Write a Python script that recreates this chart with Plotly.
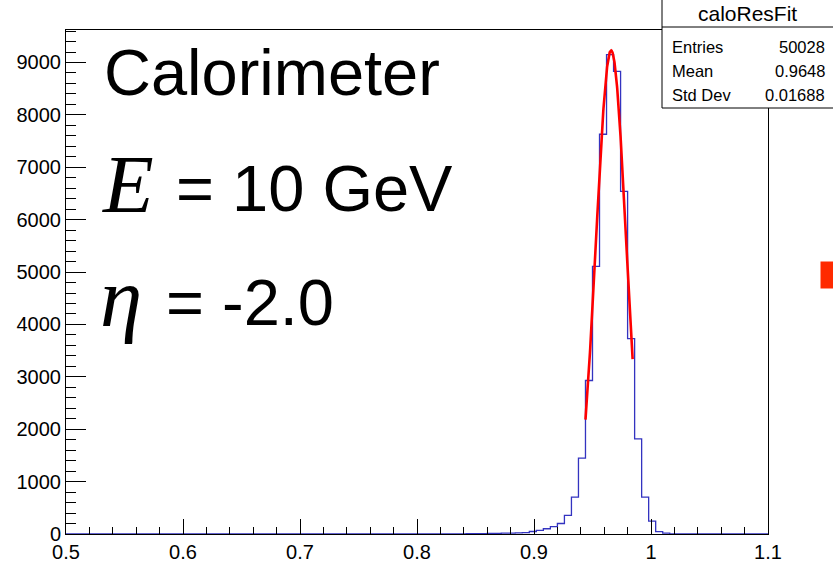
import numpy as np
import plotly.graph_objects as go

# ---------------- data ----------------
x_min, x_max, bin_width = 0.5, 1.1, 0.006
first_edge = 0.800          # lower edge of first listed bin
counts = [2, 1, 3, 2, 3, 4, 4, 5, 7, 8, 10, 12, 15, 18, 22, 28, 48,
          70, 100, 140, 200, 356, 705, 1450, 2930, 5110, 7630, 9150,
          8830, 6540, 3730, 1815, 705, 245, 45, 15, 4, 1]
y_max = 9620

fit_amp, fit_mean, fit_sigma = 9230, 0.9659, 0.0129
fit_lo, fit_hi = 0.944, 0.9843

stats_title = "caloResFit"
stats_labels = ["Entries", "Mean", "Std Dev"]
stats_values = ["50028", "0.9648", "0.01688"]

x_ticks = [0.5, 0.6, 0.7, 0.8, 0.9, 1.0, 1.1]
x_ticklabels = ["0.5", "0.6", "0.7", "0.8", "0.9", "1", "1.1"]
y_ticks = [0, 1000, 2000, 3000, 4000, 5000, 6000, 7000, 8000, 9000]

# ---------------- geometry ----------------
W, H = 833, 562
ML, MR, MT, MB = 66, 65, 30, 28
PW, PH = W - ML - MR, H - MT - MB


def px(xp):
    return (xp - ML) / PW


def py(yp):
    return (H - MB - yp) / PH


# histogram outline (step)
edges = first_edge + bin_width * np.arange(len(counts) + 1)
hx = np.concatenate([[x_min, first_edge], edges, [x_max]])
hy = np.concatenate([[0, 0], counts, [0, 0]])

fx = np.linspace(fit_lo, fit_hi, 200)
fy = fit_amp * np.exp(-0.5 * ((fx - fit_mean) / fit_sigma) ** 2)

fig = go.Figure()
fig.add_trace(go.Scatter(x=hx, y=hy, mode="lines", line_shape="hv",
                         line=dict(color="#3333c0", width=1.3),
                         hoverinfo="skip", showlegend=False))
fig.add_trace(go.Scatter(x=fx, y=fy, mode="lines",
                         line=dict(color="#ff0000", width=2.6),
                         hoverinfo="skip", showlegend=False))

tickfont = dict(family="Liberation Sans, Arial, sans-serif", size=20, color="black")

fig.update_xaxes(range=[x_min, x_max], tickvals=x_ticks, ticktext=x_ticklabels,
                 ticks="inside", ticklen=15, tickwidth=1, tickcolor="black",
                 minor=dict(tickvals=list(np.round(np.arange(0.52, 1.1, 0.02), 3)),
                            ticks="inside", ticklen=7, tickwidth=1, tickcolor="black"),
                 showline=True, linecolor="black", linewidth=1, mirror=True,
                 showgrid=False, zeroline=False, tickfont=tickfont, automargin=False)
fig.update_yaxes(range=[0, y_max], tickvals=y_ticks,
                 ticks="inside", ticklen=20, tickwidth=1, tickcolor="black",
                 minor=dict(tickvals=list(range(200, 9620, 200)),
                            ticks="inside", ticklen=10, tickwidth=1, tickcolor="black"),
                 showline=True, linecolor="black", linewidth=1, mirror=True,
                 showgrid=False, zeroline=False, tickfont=tickfont, automargin=False)

sans = "Liberation Sans, Arial, sans-serif"
serif = "Liberation Serif, Times New Roman, serif"
ann = []
ann.append(dict(text="Calorimeter", x=px(102), y=py(72.4), xanchor="left", yanchor="middle",
                font=dict(family=sans, size=65, color="black")))
ann.append(dict(text="<i>E</i>", x=px(100), y=py(183.7), xanchor="left", yanchor="middle",
                font=dict(family=serif, size=83, color="black")))
ann.append(dict(text="= 10 GeV", x=px(174), y=py(188.4), xanchor="left", yanchor="middle",
                font=dict(family=sans, size=65, color="black")))
ann.append(dict(text="<i>η</i>", x=px(98), y=py(297), xanchor="left", yanchor="middle",
                font=dict(family=serif, size=85, color="black")))
ann.append(dict(text="= -2.0", x=px(164), y=py(302.7), xanchor="left", yanchor="middle",
                font=dict(family=sans, size=65, color="black")))

# stats box
ann.append(dict(text=stats_title, x=px(747), y=py(13.5), xanchor="center", yanchor="middle",
                font=dict(family=sans, size=21, color="black")))
row_y = [47, 71, 95]
for lab, val, yy in zip(stats_labels, stats_values, row_y):
    ann.append(dict(text=lab, x=px(670), y=py(yy), xanchor="left", yanchor="middle",
                    font=dict(family=sans, size=16.5, color="black")))
    ann.append(dict(text=val, x=px(827), y=py(yy), xanchor="right", yanchor="middle",
                    font=dict(family=sans, size=16.5, color="black")))
for a in ann:
    a.update(xref="paper", yref="paper", showarrow=False)

shapes = [
    dict(type="rect", xref="paper", yref="paper", x0=px(662), x1=px(845), y0=py(108), y1=py(-2),
         line=dict(color="black", width=1), fillcolor="white", layer="above"),
    dict(type="line", xref="paper", yref="paper", x0=px(662), x1=px(845), y0=py(27), y1=py(27),
         line=dict(color="black", width=1), layer="above"),
    dict(type="rect", xref="paper", yref="paper", x0=px(820.5), x1=px(840), y0=py(288.5), y1=py(261.5),
         line=dict(width=0), fillcolor="#ff2a00", layer="above"),
]

fig.update_layout(template="none", width=W, height=H,
                  margin=dict(l=ML, r=MR, t=MT, b=MB, pad=0),
                  paper_bgcolor="white", plot_bgcolor="white",
                  annotations=ann, shapes=shapes, showlegend=False)

fig.write_html("out.html")
